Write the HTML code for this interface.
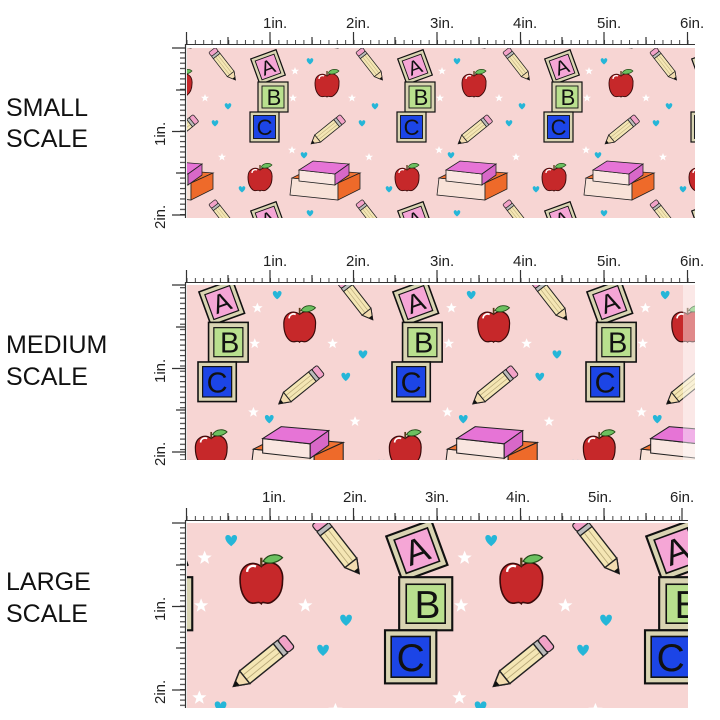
<!DOCTYPE html>
<html><head><meta charset="utf-8"><style>
html,body{margin:0;padding:0;background:#fff;width:720px;height:720px;overflow:hidden;}
svg{display:block;}
.lbl{font-family:"Liberation Sans",sans-serif;font-size:25px;fill:#111;}
.rl{font-family:"Liberation Sans",sans-serif;font-size:15px;fill:#222;}
.blk{font-family:"Liberation Sans",sans-serif;fill:#111;text-anchor:middle;}
</style></head><body>
<svg width="720" height="720" viewBox="0 0 720 720" xmlns="http://www.w3.org/2000/svg">
<defs>
 <pattern id="tickH" x="186.5" y="0" width="8.35" height="720" patternUnits="userSpaceOnUse">
  <line x1="0.5" y1="0" x2="0.5" y2="720" stroke="#444" stroke-width="1"/>
 </pattern>
 <pattern id="tickV" x="0" y="0" width="20" height="5.22" patternUnits="userSpaceOnUse">
  <line x1="0" y1="0.5" x2="20" y2="0.5" stroke="#444" stroke-width="1.3"/>
 </pattern>
 <g id="pencil">
  <polygon points="8,-4.5 32,-4.5 40,0 32,4.5 8,4.5" fill="#f4e6b4" stroke="#222" stroke-width="0.8"/>
  <line x1="8" y1="-1.5" x2="32" y2="-1.5" stroke="#b8a878" stroke-width="0.5"/>
  <line x1="8" y1="1.5" x2="32" y2="1.5" stroke="#b8a878" stroke-width="0.5"/>
  <polygon points="32,-4.5 40,0 32,4.5" fill="#f3dcb0" stroke="#222" stroke-width="0.8"/>
  <polygon points="37,-1.6 40,0 37,1.6" fill="#111"/>
  <rect x="5" y="-4.5" width="3" height="9" fill="#bbb" stroke="#222" stroke-width="0.7"/>
  <rect x="0" y="-4.5" width="5" height="9" rx="1.5" fill="#f2a2c8" stroke="#222" stroke-width="0.7"/>
 </g>
 <g id="apple">
  <path d="M0,-9 C5,-14 13,-10 12,-1 C12,6 9,9 6,11 C3,13 1,10 0,12 C-2,10 -4,13 -7,11 C-11,8 -12,3 -12,-2 C-12,-10 -5,-13 0,-9 Z" fill="#c6282a" stroke="#3a0a0a" stroke-width="0.9"/>
  <path d="M-8,-6 C-8,-9 -5,-10 -3,-9" stroke="#fff" stroke-width="1.3" fill="none"/>
  <line x1="0" y1="-9" x2="0" y2="-14" stroke="#5a3a1a" stroke-width="1.3"/>
  <path d="M1,-12 C4,-17 10,-16 12,-14 C9,-11 4,-10 1,-12 Z" fill="#6cc060" stroke="#224a18" stroke-width="0.7"/>
 </g>
 <g id="heart"><path d="M0,2.5 C-4,-0.5 -4,-3.5 -2,-3.8 C-1,-4 0,-3 0,-2 C0,-3 1,-4 2,-3.8 C4,-3.5 4,-0.5 0,2.5 Z" fill="#25b6d8"/></g>
 <g id="star"><polygon points="0,-4 1.1,-1.3 4,-1.2 1.7,0.6 2.5,3.5 0,1.8 -2.5,3.5 -1.7,0.6 -4,-1.2 -1.1,-1.3" fill="#fff"/></g>
 <g id="tile">
  <use href="#pencil" transform="translate(12,2) rotate(52) scale(0.95)"/>
  <g transform="translate(68,19) rotate(-20)">
   <rect x="-13.5" y="-13.5" width="27" height="27" fill="#d9d4b2" stroke="#111" stroke-width="1.2"/>
   <rect x="-10" y="-10" width="20" height="20" fill="#f5a6d6" stroke="#111" stroke-width="0.9"/>
   <text x="0" y="7" class="blk" font-size="20">A</text>
  </g>
  <g transform="translate(73,49)">
   <rect x="-15" y="-15" width="30" height="30" fill="#d9d4b2" stroke="#111" stroke-width="1.2"/>
   <rect x="-11" y="-11" width="22" height="22" fill="#b9e08e" stroke="#111" stroke-width="0.9"/>
   <text x="1" y="8" class="blk" font-size="22">B</text>
  </g>
  <g transform="translate(64.5,79)">
   <rect x="-14.5" y="-15" width="29" height="30" fill="#d9d4b2" stroke="#111" stroke-width="1.2"/>
   <rect x="-11" y="-11.5" width="22" height="23" fill="#1c45e6" stroke="#111" stroke-width="0.9"/>
   <text x="0" y="8" class="blk" font-size="22">C</text>
  </g>
  <use href="#apple" transform="translate(127,37)"/>
  <use href="#apple" transform="translate(60,131)"/>
  <use href="#pencil" transform="translate(143,70) rotate(141) scale(1.02)"/>
  <polygon points="92,130 138,135 138,152 90,147" fill="#f8e2d8" stroke="#222" stroke-width="0.8"/>
  <polygon points="92,130 110,121 160,125 138,135" fill="#f07232" stroke="#222" stroke-width="0.8"/>
  <polygon points="138,135 160,125 160,141 138,152" fill="#ee6a2a" stroke="#222" stroke-width="0.8"/>
  <polygon points="99,122 135,126 135,137 99,133" fill="#f9e6e0" stroke="#222" stroke-width="0.8"/>
  <polygon points="99,122 113,113 149,116 135,126" fill="#e674d6" stroke="#222" stroke-width="0.8"/>
  <polygon points="135,126 149,116 149,127 135,137" fill="#d868c8" stroke="#222" stroke-width="0.8"/>
  <use href="#heart" transform="translate(110,14)"/>
  <use href="#heart" transform="translate(28,59)"/>
  <use href="#heart" transform="translate(15,76)"/>
  <use href="#heart" transform="translate(104,108)"/>
  <use href="#heart" transform="translate(42,142)"/>
  <use href="#star" transform="translate(5,50)"/>
  <use href="#star" transform="translate(93,50)"/>
  <use href="#star" transform="translate(92,102)"/>
  <use href="#star" transform="translate(22,109)"/>
  <use href="#star" transform="translate(95,23)"/>
 </g>
 <clipPath id="c1"><rect x="187" y="48" width="508" height="170"/></clipPath>
 <clipPath id="c2"><rect x="187" y="285" width="508" height="175"/></clipPath>
 <clipPath id="c3"><rect x="187" y="523" width="501" height="185"/></clipPath>
</defs>

<text class="lbl" x="6" y="116">SMALL</text>
<text class="lbl" x="6" y="147">SCALE</text>
<text class="lbl" x="6" y="353">MEDIUM</text>
<text class="lbl" x="6" y="385">SCALE</text>
<text class="lbl" x="6" y="590">LARGE</text>
<text class="lbl" x="6" y="622">SCALE</text>

<rect x="187" y="48" width="508" height="170" fill="#f7d5d3"/>
<g clip-path="url(#c1)">
 <use href="#tile" transform="translate(53,-104)"/><use href="#tile" transform="translate(200,-104)"/><use href="#tile" transform="translate(347,-104)"/><use href="#tile" transform="translate(494,-104)"/><use href="#tile" transform="translate(641,-104)"/>
 <use href="#tile" transform="translate(53,48)"/><use href="#tile" transform="translate(200,48)"/><use href="#tile" transform="translate(347,48)"/><use href="#tile" transform="translate(494,48)"/><use href="#tile" transform="translate(641,48)"/>
 <use href="#tile" transform="translate(53,200)"/><use href="#tile" transform="translate(200,200)"/><use href="#tile" transform="translate(347,200)"/><use href="#tile" transform="translate(494,200)"/><use href="#tile" transform="translate(641,200)"/>
</g>

<rect x="187" y="285" width="508" height="175" fill="#f7d5d3"/>
<g clip-path="url(#c2)">
 <use href="#tile" transform="translate(-62,77) scale(1.32)"/><use href="#tile" transform="translate(132,77) scale(1.32)"/><use href="#tile" transform="translate(326,77) scale(1.32)"/><use href="#tile" transform="translate(520,77) scale(1.32)"/>
 <use href="#tile" transform="translate(-62,277.5) scale(1.32)"/><use href="#tile" transform="translate(132,277.5) scale(1.32)"/><use href="#tile" transform="translate(326,277.5) scale(1.32)"/><use href="#tile" transform="translate(520,277.5) scale(1.32)"/>
 <use href="#tile" transform="translate(-62,478) scale(1.32)"/><use href="#tile" transform="translate(132,478) scale(1.32)"/><use href="#tile" transform="translate(326,478) scale(1.32)"/><use href="#tile" transform="translate(520,478) scale(1.32)"/>
 <rect x="683" y="285" width="12" height="175" fill="#fff" opacity="0.45"/>
</g>

<rect x="187" y="523" width="501" height="185" fill="#f7d5d3"/>
<g clip-path="url(#c3)">
 <use href="#tile" transform="translate(-223.5,248) scale(1.77)"/><use href="#tile" transform="translate(36.5,248) scale(1.77)"/><use href="#tile" transform="translate(296.5,248) scale(1.77)"/><use href="#tile" transform="translate(556.5,248) scale(1.77)"/>
 <use href="#tile" transform="translate(-223.5,517) scale(1.77)"/><use href="#tile" transform="translate(36.5,517) scale(1.77)"/><use href="#tile" transform="translate(296.5,517) scale(1.77)"/><use href="#tile" transform="translate(556.5,517) scale(1.77)"/>
</g>

<g>
 <rect x="186.5" y="40" width="508" height="4" fill="url(#tickH)"/>
 <line x1="186" y1="44.5" x2="695" y2="44.5" stroke="#333" stroke-width="1"/>
 <rect x="180" y="48" width="6" height="170" fill="url(#tickV)"/>
 <line x1="185.5" y1="44" x2="185.5" y2="218" stroke="#333" stroke-width="1.2"/>
 <rect x="186.5" y="278" width="508" height="4" fill="url(#tickH)"/>
 <line x1="186" y1="282.5" x2="695" y2="282.5" stroke="#333" stroke-width="1"/>
 <rect x="180" y="285" width="6" height="175" fill="url(#tickV)"/>
 <line x1="185.5" y1="282" x2="185.5" y2="460" stroke="#333" stroke-width="1.2"/>
 <rect x="186.5" y="516" width="500" height="4" fill="url(#tickH)"/>
 <line x1="186" y1="520.5" x2="688" y2="520.5" stroke="#333" stroke-width="1"/>
 <rect x="180" y="523" width="6" height="185" fill="url(#tickV)"/>
 <line x1="185.5" y1="520" x2="185.5" y2="708" stroke="#333" stroke-width="1.2"/>
</g>
<g stroke="#333" stroke-width="1.2">
 <path d="M186.5,32V44 M228,37V44 M270,32V44 M312,37V44 M353.5,32V44 M395,37V44 M437,32V44 M479,37V44 M520.5,32V44 M562,37V44 M604,32V44 M646,37V44 M687.5,32V44"/>
 <path d="M186.5,270V282 M228,275V282 M270,270V282 M312,275V282 M353.5,270V282 M395,275V282 M437,270V282 M479,275V282 M520.5,270V282 M562,275V282 M604,270V282 M646,275V282 M687.5,270V282"/>
 <path d="M186.5,508V520 M228,513V520 M270,508V520 M312,513V520 M353.5,508V520 M395,513V520 M437,508V520 M479,513V520 M520.5,508V520 M562,513V520 M604,508V520 M646,513V520 M682,508V520"/>
 <path d="M172,48H186 M176,90H186 M172,131.5H186 M176,173H186 M172,215H186"/>
 <path d="M172,285H186 M176,327H186 M172,368.5H186 M176,410H186 M172,452H186"/>
 <path d="M172,523H186 M176,565H186 M172,606.5H186 M176,648H186 M172,690H186"/>
</g>
<g class="rl">
 <text x="263" y="28">1in.</text><text x="346" y="28">2in.</text><text x="430" y="28">3in.</text><text x="513" y="28">4in.</text><text x="597" y="28">5in.</text><text x="680" y="28">6in.</text>
 <text x="263" y="266">1in.</text><text x="346" y="266">2in.</text><text x="430" y="266">3in.</text><text x="513" y="266">4in.</text><text x="597" y="266">5in.</text><text x="680" y="266">6in.</text>
 <text x="262" y="502">1in.</text><text x="343" y="502">2in.</text><text x="425" y="502">3in.</text><text x="506" y="502">4in.</text><text x="588" y="502">5in.</text><text x="670" y="502">6in.</text>
 <text transform="translate(165,146) rotate(-90)">1in.</text><text transform="translate(165,229) rotate(-90)">2in.</text>
 <text transform="translate(165,383) rotate(-90)">1in.</text><text transform="translate(165,466) rotate(-90)">2in.</text>
 <text transform="translate(165,621) rotate(-90)">1in.</text><text transform="translate(165,704) rotate(-90)">2in.</text>
</g>
</svg>
</body></html>
